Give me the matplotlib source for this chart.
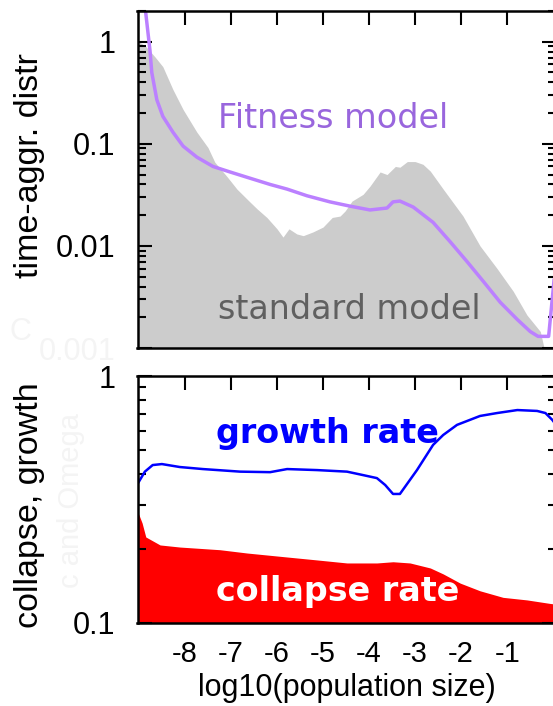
import numpy as np
import matplotlib
matplotlib.use("Agg")
import matplotlib.pyplot as plt
from matplotlib.ticker import LogLocator, NullFormatter, FixedLocator

# standard model, time-aggregated distribution (grey area)
std_x = [-9.0, -8.85, -8.65, -8.48, -8.26, -8.04, -7.74, -7.5, -7.35, -7.09, -6.87,
         -6.59, -6.43, -6.22, -6.0, -5.87, -5.74, -5.57, -5.43, -5.22, -5.0, -4.8,
         -4.63, -4.52, -4.37, -4.13, -3.98, -3.76, -3.61, -3.43, -3.33, -3.17, -3.0,
         -2.83, -2.67, -2.39, -1.96, -1.59, -1.22, -0.87, -0.57, -0.28, -0.2]
std_y = [1.0, 0.9, 0.71, 0.57, 0.34, 0.217, 0.13, 0.092, 0.066, 0.048, 0.036,
         0.027, 0.023, 0.019, 0.0147, 0.0122, 0.0147, 0.0131, 0.0126, 0.0137, 0.0153, 0.019,
         0.0196, 0.022, 0.0275, 0.032, 0.0385, 0.053, 0.05, 0.06, 0.059, 0.067, 0.067,
         0.063, 0.054, 0.036, 0.0196, 0.01, 0.006, 0.0036, 0.0021, 0.00145, 0.001]

# fitness model (purple line)
fit_x = [-8.88, -8.76, -8.72, -8.61, -8.48, -8.26, -8.04, -7.74, -7.39, -7.02, -6.65,
         -6.15, -5.78, -5.35, -4.85, -4.41, -3.98, -3.61, -3.48, -3.33, -3.04, -2.61,
         -2.24, -1.87, -1.52, -1.15, -0.78, -0.5, -0.33, -0.1, 0.0, 0.1]
fit_y = [2.5, 0.83, 0.5, 0.27, 0.186, 0.13, 0.095, 0.074, 0.06, 0.053, 0.047,
         0.040, 0.036, 0.031, 0.027, 0.0245, 0.0225, 0.0235, 0.027, 0.0275, 0.024, 0.017,
         0.011, 0.007, 0.0045, 0.0028, 0.0019, 0.00145, 0.0013, 0.0013, 0.0038, 0.012]

# growth rate (blue line)
gr_x = [-9.05, -8.87, -8.7, -8.5, -8.11, -7.61, -6.8, -6.15, -5.78, -5.13, -4.48, -4.13,
        -3.83, -3.65, -3.48, -3.33, -2.96, -2.61, -2.39, -2.09, -1.59, -1.22, -0.78,
        -0.35, -0.17, -0.02, 0.1]
gr_y = [0.36, 0.41, 0.436, 0.44, 0.428, 0.42, 0.41, 0.408, 0.42, 0.416, 0.41, 0.397,
        0.386, 0.362, 0.333, 0.333, 0.416, 0.526, 0.577, 0.634, 0.689, 0.708, 0.728,
        0.722, 0.708, 0.664, 0.62]

# collapse rate (red area)
col_x = [-9.05, -8.93, -8.85, -8.54, -8.11, -7.24, -6.65, -5.78, -5.13, -4.48, -3.83,
         -3.48, -3.11, -2.67, -2.39, -2.02, -1.59, -1.09, -0.57, -0.07, 0.1]
col_y = [0.29, 0.254, 0.223, 0.207, 0.203, 0.198, 0.192, 0.185, 0.18, 0.175, 0.175,
         0.177, 0.175, 0.167, 0.158, 0.145, 0.135, 0.127, 0.124, 0.12, 0.119]

xticks = [-8, -7, -6, -5, -4, -3, -2, -1]
faint = '#f4f4f4'

plt.rcParams['font.family'] = ['Liberation Sans', 'DejaVu Sans']
plt.rcParams['font.size'] = 21

fig = plt.figure(figsize=(5.53, 7.06), dpi=100)
W, H = 553.0, 706.0
ax1 = fig.add_axes([137.5 / W, (H - 348) / H, 418.5 / W, 337 / H])
ax2 = fig.add_axes([137.5 / W, (H - 623) / H, 418.5 / W, 247 / H])

# top panel
ax1.fill_between(std_x, std_y, 1e-5, color='#cccccc', lw=0)
ax1.plot(fit_x, fit_y, color='#bb80ff', lw=2.5)
ax1.set_yscale('log')
ax1.set_xlim(-9.03, 0.06)
ax1.set_ylim(0.001, 2.0)
ax1.set_ylabel('time-aggr. distr', fontsize=24.5)
ax1.yaxis.set_label_coords(-0.221, 0.54)
ax1.text(0.467, 0.682, 'Fitness model', transform=ax1.transAxes, ha='center', va='center',
         fontsize=24, color='#9966dd', family='DejaVu Sans')
ax1.text(0.505, 0.113, 'standard model', transform=ax1.transAxes, ha='center', va='center',
         fontsize=24, color='#606060', family='DejaVu Sans')

# bottom panel
ax2.fill_between(col_x, col_y, 0.01, color='#ff0000', lw=0)
ax2.plot(gr_x, gr_y, color='#0000ff', lw=1.8)
ax2.set_yscale('log')
ax2.set_xlim(-9.03, 0.06)
ax2.set_ylim(0.1, 1.0)
ax2.set_ylabel('collapse, growth', fontsize=24.5)
ax2.yaxis.set_label_coords(-0.221, 0.478)
ax2.set_xlabel('log10(population size)', fontsize=22, labelpad=4)
ax2.text(0.455, 0.769, 'growth rate', transform=ax2.transAxes, ha='center', va='center',
         fontsize=24, color='#0000ff', fontweight='bold', family='DejaVu Sans')
ax2.text(0.479, 0.126, 'collapse rate', transform=ax2.transAxes, ha='center', va='center',
         fontsize=24, color='white', fontweight='bold', family='DejaVu Sans')

# almost invisible leftovers in the original
fig.text(71 / W, (H - 500) / H, 'c and Omega', rotation=90, ha='center', va='center',
         fontsize=21, color=faint)
fig.text(20 / W, (H - 332) / H, 'C', ha='center', va='center', fontsize=22, color=faint)

for ax in (ax1, ax2):
    for s in ax.spines.values():
        s.set_linewidth(1.8)
    ax.xaxis.set_major_locator(FixedLocator(xticks))
    ax.tick_params(axis='x', which='both', direction='in', top=True, bottom=False,
                   length=10, width=1.5, pad=12, labelsize=21)
    ax.tick_params(axis='y', which='major', direction='in', left=True, right=True,
                   length=10, width=1.5, pad=16, labelsize=22)
    ax.tick_params(axis='y', which='minor', direction='in', left=True, right=True,
                   length=6, width=1.5)
    ax.yaxis.set_minor_locator(LogLocator(base=10, subs=np.arange(2, 10)))
    ax.yaxis.set_minor_formatter(NullFormatter())

ax1.tick_params(axis='x', labelbottom=False)
ax1.set_yticks([1, 0.1, 0.01, 0.001])
ax1.set_yticklabels(['1', '0.1', '0.01', '0.001'])
ax1.get_yticklabels()[3].set_color(faint)
ax2.set_yticks([1, 0.1])
ax2.set_yticklabels(['1', '0.1'])
ax2.set_xticklabels([str(v) for v in xticks])

fig.savefig('out.png', dpi=100)
